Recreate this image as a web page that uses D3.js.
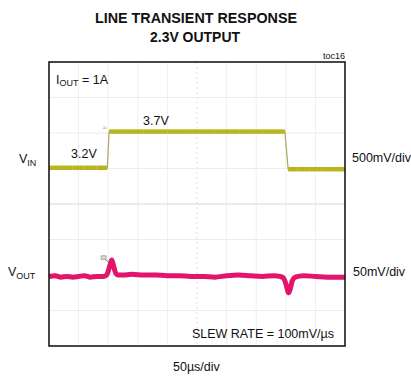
<!DOCTYPE html>
<html><head><meta charset="utf-8">
<script src="https://cdn.jsdelivr.net/npm/d3@7"></script>
<style>
html,body{margin:0;padding:0;background:#fff;}
text{font-family:"Liberation Sans",Arial,Helvetica,sans-serif;fill:#111;}
</style></head>
<body>
<svg id="c" width="411" height="377"></svg>
<script>
// ---- data ----
const titleLines = ["LINE TRANSIENT RESPONSE", "2.3V OUTPUT"];
const timeDomain = [0, 500];          // µs, 50µs/div, 10 div
const vinDomain = [0.7, 4.7];         // V, 500mV/div, 8 div
const voutDomain = [2.2, 2.6];        // V, 50mV/div, 8 div
const vinTime  = [0, 20, 40, 60, 80, 98.5, 101.5, 120, 160, 200, 240, 280, 320, 360, 398.5, 404, 420, 440, 460, 480, 500];
const vinValue = [3.21, 3.21, 3.21, 3.21, 3.21, 3.21, 3.72, 3.72, 3.72, 3.72, 3.72, 3.72, 3.72, 3.72, 3.72, 3.19, 3.19, 3.19, 3.19, 3.19, 3.19];
const voutTime  = [0, 10, 20, 30, 40, 50, 60, 70, 80, 90, 96, 100, 103, 106, 109, 112, 116, 125, 140, 160, 180, 200, 220, 240, 260, 280, 300, 320, 340, 360, 380, 390, 396, 400, 405, 408, 411, 416, 430, 450, 470, 490, 500];
const voutValue = [2.298, 2.299, 2.297, 2.298, 2.297, 2.298, 2.299, 2.297, 2.298, 2.298, 2.299, 2.305, 2.314, 2.321, 2.313, 2.304, 2.300, 2.300, 2.301, 2.300, 2.300, 2.299, 2.299, 2.298, 2.298, 2.297, 2.299, 2.300, 2.299, 2.298, 2.299, 2.298, 2.296, 2.288, 2.275, 2.282, 2.292, 2.297, 2.299, 2.298, 2.297, 2.297, 2.297];
const xDivs = 10, yDivs = 8;

// ---- layout ----
const L = 49, R = 345, T = 62, B = 346;
const svg = d3.select("#c");
const x = d3.scaleLinear().domain(timeDomain).range([L, R]);
const yIn = d3.scaleLinear().domain(vinDomain).range([B, T]);
const yOut = d3.scaleLinear().domain(voutDomain).range([B, T]);

// grid
const g = svg.append("g");
d3.range(1, xDivs).forEach(i => {
  const xv = x(timeDomain[0] + i * (timeDomain[1] - timeDomain[0]) / xDivs);
  g.append("line").attr("x1", xv).attr("x2", xv).attr("y1", T).attr("y2", B)
    .attr("stroke", i === 5 ? "#e0e0e0" : "#efefef").attr("stroke-width", 1)
    .attr("stroke-dasharray", i === 5 ? "2,3" : null);
});
d3.range(1, yDivs).forEach(i => {
  const yv = yIn(vinDomain[0] + i * (vinDomain[1] - vinDomain[0]) / yDivs);
  g.append("line").attr("x1", L).attr("x2", R).attr("y1", yv).attr("y2", yv)
    .attr("stroke", i === 4 ? "#d8d8d8" : "#ececec").attr("stroke-width", 1);
});

// VIN trace: thin on fast edges, thick on flat parts
const vinCol = "#b9b51f";
const lineIn = d3.line().x((d, i) => x(vinTime[i])).y(d => yIn(d));
svg.append("path").attr("d", lineIn(vinValue)).attr("fill", "none")
  .attr("stroke", "#a9a860").attr("stroke-width", 1.2);
const segs = d3.range(vinValue.length - 1).filter(i => Math.abs(vinValue[i + 1] - vinValue[i]) < 0.05);
svg.append("g").selectAll("line").data(segs).join("line")
  .attr("x1", i => x(vinTime[i])).attr("x2", i => x(vinTime[i + 1]))
  .attr("y1", i => yIn(vinValue[i])).attr("y2", i => yIn(vinValue[i + 1]))
  .attr("stroke", vinCol).attr("stroke-width", 4.5).attr("stroke-linecap", "butt");

// VOUT trace
const lineOut = d3.line().x((d, i) => x(voutTime[i])).y(d => yOut(d)).curve(d3.curveMonotoneX);
svg.append("path").attr("d", lineOut(voutValue)).attr("fill", "none")
  .attr("stroke", "#e3146c").attr("stroke-width", 5).attr("stroke-linejoin", "round");

// trigger markers
svg.append("text").attr("x", x(91)).attr("y", yIn(3.74)).attr("font-size", 7).style("fill", "#888").text("≈");
svg.append("rect").attr("x", x(88)).attr("y", yOut(2.327)).attr("width", 5).attr("height", 3.5)
  .attr("fill", "#cfe0cf").attr("stroke", "#7a8a7a").attr("stroke-width", 0.6);
svg.append("line").attr("x1", x(95)).attr("y1", yOut(2.322)).attr("x2", x(102)).attr("y2", yOut(2.317))
  .attr("stroke", "#667").attr("stroke-width", 0.8);

// frame
svg.append("rect").attr("x", L).attr("y", T).attr("width", R - L).attr("height", B - T)
  .attr("fill", "none").attr("stroke", "#1a1a1a").attr("stroke-width", 1.6);

// title
svg.append("text").attr("x", 196).attr("y", 23).attr("text-anchor", "middle")
  .attr("font-size", 15).attr("font-weight", "bold").attr("textLength", 202).attr("lengthAdjust", "spacingAndGlyphs")
  .text(titleLines[0]);
svg.append("text").attr("x", 195).attr("y", 42).attr("text-anchor", "middle")
  .attr("font-size", 15).attr("font-weight", "bold").attr("textLength", 90).attr("lengthAdjust", "spacingAndGlyphs")
  .text(titleLines[1]);
svg.append("text").attr("x", 345).attr("y", 59).attr("text-anchor", "end").attr("font-size", 9).text("toc16");

// annotations
const iout = svg.append("text").attr("x", 56).attr("y", 84).attr("font-size", 12.5);
iout.append("tspan").text("I");
iout.append("tspan").attr("font-size", 9).attr("dy", 2).text("OUT");
iout.append("tspan").attr("dy", -2).text(" = 1A");
svg.append("text").attr("x", 143).attr("y", 125).attr("font-size", 12.5).text("3.7V");
svg.append("text").attr("x", 71).attr("y", 158).attr("font-size", 12.5).text("3.2V");

const vin = svg.append("text").attr("x", 19).attr("y", 163).attr("font-size", 12.5);
vin.append("tspan").text("V");
vin.append("tspan").attr("font-size", 9).attr("dy", 3).text("IN");
const vout = svg.append("text").attr("x", 8).attr("y", 276).attr("font-size", 12.5);
vout.append("tspan").text("V");
vout.append("tspan").attr("font-size", 9).attr("dy", 3).text("OUT");

svg.append("text").attr("x", 352).attr("y", 162).attr("font-size", 12.5).text("500mV/div");
svg.append("text").attr("x", 353).attr("y", 276).attr("font-size", 12.5).text("50mV/div");
svg.append("text").attr("x", 334).attr("y", 338).attr("text-anchor", "end").attr("font-size", 12.5).text("SLEW RATE = 100mV/µs");
svg.append("text").attr("x", 173).attr("y", 371).attr("font-size", 12.5).text("50µs/div");
</script>
</body></html>
